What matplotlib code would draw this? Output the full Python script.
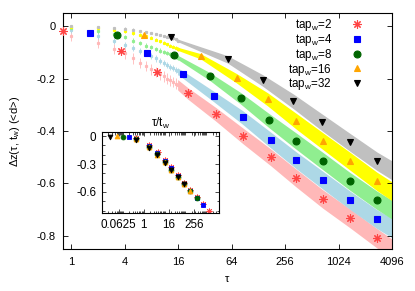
import numpy as np
import matplotlib
matplotlib.use("Agg")
import matplotlib.pyplot as plt
from matplotlib.ticker import FixedLocator, NullLocator, NullFormatter, LogLocator, MultipleLocator

plt.rcParams["font.family"] = ["Liberation Sans", "DejaVu Sans"]
plt.rcParams["axes.unicode_minus"] = False
plt.rcParams["mathtext.fontset"] = "custom"
plt.rcParams["mathtext.rm"] = "Liberation Sans"
plt.rcParams["mathtext.it"] = "Liberation Sans:italic"

# ---------------- data ----------------
TAP_W = [2, 4, 8, 16, 32]
LABELS = [r"tap$_\mathrm{w}$=%d" % t for t in TAP_W]

# sparse region: raw points at integer tau, drawn as light error bars
TAU_SPARSE = [1, 2, 3, 4, 5, 6, 7, 8, 9, 10, 11, 12, 13, 14, 15, 16]
SPARSE_2 = [-0.037, -0.063, -0.087, -0.104, -0.123, -0.140, -0.153, -0.165,
            -0.175, -0.184, -0.192, -0.200, -0.207, -0.213, -0.219, -0.225]
SPARSE_4 = [-0.016, -0.036, -0.056, -0.072, -0.084, -0.095, -0.103, -0.113,
            -0.123, -0.132, -0.140, -0.148, -0.155, -0.161, -0.167, -0.173]
SPARSE_8 = [-0.007, -0.020, -0.030, -0.043, -0.055, -0.065, -0.074, -0.080,
            -0.087, -0.093, -0.098, -0.103, -0.108, -0.111, -0.116, -0.120]
SPARSE_16 = [-0.002, -0.006, -0.013, -0.020, -0.027, -0.032, -0.038, -0.045,
             -0.052, -0.058, -0.064, -0.069, -0.074, -0.079, -0.083, -0.087]
SPARSE_32 = [0.000, -0.003, -0.007, -0.010, -0.014, -0.018, -0.022, -0.026,
             -0.030, -0.034, -0.037, -0.040, -0.043, -0.047, -0.051, -0.055]
SPARSE_ERR = [0.020, 0.012, 0.008, 0.006, 0.005]

# dense region: band centre and half width
BAND_TAU_2 = [16, 20.5, 42.4, 87, 176, 343, 685, 1377, 2770, 4096]
BAND_MID_2 = [-0.225, -0.256, -0.336, -0.420, -0.500, -0.580, -0.660, -0.733, -0.809, -0.850]
BAND_HW_2 = [0.020, 0.022, 0.026, 0.030, 0.032, 0.034, 0.035, 0.036, 0.037, 0.038]

BAND_TAU_4 = [16, 18, 40.2, 85, 176, 343, 685, 1377, 2770, 4096]
BAND_MID_4 = [-0.173, -0.184, -0.268, -0.348, -0.434, -0.512, -0.588, -0.664, -0.736, -0.770]
BAND_HW_4 = [0.012, 0.014, 0.020, 0.026, 0.030, 0.032, 0.034, 0.035, 0.036, 0.037]

BAND_TAU_8 = [16, 36.3, 80.8, 167, 343, 685, 1377, 2770, 4096]
BAND_MID_8 = [-0.120, -0.192, -0.275, -0.359, -0.439, -0.515, -0.592, -0.664, -0.700]
BAND_HW_8 = [0.008, 0.015, 0.022, 0.027, 0.031, 0.033, 0.034, 0.035, 0.036]

BAND_TAU_16 = [16, 28.7, 72.9, 162.6, 343, 685, 1377, 2770, 4096]
BAND_MID_16 = [-0.087, -0.115, -0.199, -0.279, -0.363, -0.439, -0.515, -0.592, -0.630]
BAND_HW_16 = [0.006, 0.010, 0.018, 0.025, 0.030, 0.032, 0.034, 0.035, 0.036]

BAND_TAU_32 = [16, 57.8, 143, 318, 668, 1377, 2770, 4096]
BAND_MID_32 = [-0.055, -0.127, -0.207, -0.287, -0.367, -0.443, -0.515, -0.550]
BAND_HW_32 = [0.005, 0.014, 0.022, 0.028, 0.032, 0.034, 0.035, 0.036]

# highlighted points
MARK_TAU_2 = [0.81, 3.64, 9.2, 20.5, 42.4, 87, 176, 343, 685, 1377, 2770]
MARK_VAL_2 = [-0.020, -0.096, -0.176, -0.256, -0.336, -0.420, -0.500, -0.580, -0.660, -0.733, -0.809]
MARK_TAU_4 = [1.63, 7.1, 18.0, 40.2, 85, 176, 343, 685, 1377, 2770]
MARK_VAL_4 = [-0.028, -0.104, -0.184, -0.268, -0.348, -0.434, -0.512, -0.588, -0.664, -0.736]
MARK_TAU_8 = [3.28, 14.3, 36.3, 80.8, 167, 343, 685, 1377, 2770]
MARK_VAL_8 = [-0.032, -0.112, -0.192, -0.275, -0.359, -0.439, -0.515, -0.592, -0.664]
MARK_TAU_16 = [6.6, 28.7, 72.9, 162.6, 343, 685, 1377, 2770]
MARK_VAL_16 = [-0.035, -0.115, -0.199, -0.279, -0.363, -0.439, -0.515, -0.592]
MARK_TAU_32 = [13.2, 57.8, 143, 318, 668, 1377, 2770]
MARK_VAL_32 = [-0.043, -0.127, -0.207, -0.287, -0.367, -0.443, -0.515]

# inset: same points against tau / t_w
INSET_X_2 = [0.41, 1.82, 4.6, 10.25, 21.2, 43.5, 88, 172, 343, 688, 1385]
INSET_Y_2 = MARK_VAL_2
INSET_X_4 = [0.2, 0.41, 1.78, 4.5, 10.05, 21.2, 44, 86, 172, 344, 692]
INSET_Y_4 = [-0.007] + MARK_VAL_4
INSET_X_8 = [0.1, 0.41, 1.79, 4.54, 10.1, 20.9, 42.9, 85.6, 172, 346]
INSET_Y_8 = [-0.007] + MARK_VAL_8
INSET_X_16 = [0.05, 0.41, 1.79, 4.56, 10.2, 21.4, 42.8, 86, 173]
INSET_Y_16 = [0.0] + MARK_VAL_16
INSET_X_32 = [0.025, 0.41, 1.81, 4.47, 9.94, 20.9, 43, 86.6]
INSET_Y_32 = [-0.007] + MARK_VAL_32

# ---------------- styles ----------------
BAND_COLORS = ["#ffb8b8", "#add8e6", "#90ee90", "#ffff00", "#c0c0c0"]
MARK_COLORS = ["#ff4444", "#0000ff", "#006400", "#ffa500", "#000000"]
MARKERS = [(8, 2, 0), "s", "o", "^", "v"]
MSIZES = [6, 4.6, 5, 5, 5]

sparse = [SPARSE_2, SPARSE_4, SPARSE_8, SPARSE_16, SPARSE_32]
bands = [
    (BAND_TAU_2, BAND_MID_2, BAND_HW_2),
    (BAND_TAU_4, BAND_MID_4, BAND_HW_4),
    (BAND_TAU_8, BAND_MID_8, BAND_HW_8),
    (BAND_TAU_16, BAND_MID_16, BAND_HW_16),
    (BAND_TAU_32, BAND_MID_32, BAND_HW_32),
]
marks = [
    (MARK_TAU_2, MARK_VAL_2),
    (MARK_TAU_4, MARK_VAL_4),
    (MARK_TAU_8, MARK_VAL_8),
    (MARK_TAU_16, MARK_VAL_16),
    (MARK_TAU_32, MARK_VAL_32),
]
insets = [
    (INSET_X_2, INSET_Y_2),
    (INSET_X_4, INSET_Y_4),
    (INSET_X_8, INSET_Y_8),
    (INSET_X_16, INSET_Y_16),
    (INSET_X_32, INSET_Y_32),
]

fig = plt.figure(figsize=(4.15, 2.91), dpi=100)
ax = fig.add_axes([0.1518, 0.1443, 0.7928, 0.811])

for i in range(5):
    ax.errorbar(TAU_SPARSE, sparse[i], yerr=SPARSE_ERR[i], fmt="s", ms=1.3,
                color=BAND_COLORS[i], ecolor=BAND_COLORS[i], elinewidth=0.6,
                capsize=0, zorder=1)
    tau, mid, hw = (np.array(a, dtype=float) for a in bands[i])
    ax.fill_between(tau, mid - hw, mid + hw, color=BAND_COLORS[i], lw=0, zorder=1)

handles = []
for i in range(5):
    h, = ax.plot(marks[i][0], marks[i][1], ls="none", marker=MARKERS[i],
                 ms=MSIZES[i], color=MARK_COLORS[i], mew=0.8, zorder=3,
                 clip_on=False)
    handles.append(h)

ax.set_xscale("log", base=2)
ax.set_xlim(0.81, 4096)
ax.set_ylim(-0.85, 0.05)
ax.xaxis.set_major_locator(FixedLocator([1, 4, 16, 64, 256, 1024, 4096]))
ax.set_xticklabels(["1", "4", "16", "64", "256", "1024", "4096"])
ax.xaxis.set_minor_locator(NullLocator())
ax.set_yticks([0, -0.2, -0.4, -0.6, -0.8])
ax.set_yticklabels(["0", "-0.2", "-0.4", "-0.6", "-0.8"])
ax.tick_params(direction="in", top=True, right=True, length=3.5, width=0.6,
               labelsize=8, pad=5.5)
for s in ax.spines.values():
    s.set_linewidth(0.8)
ax.set_xlabel("τ", fontsize=8, labelpad=5)
ax.set_ylabel(r"Δz(τ, t$_\mathrm{w}$) (<d>)", fontsize=8, labelpad=10)

ax.legend(handles, LABELS, loc="upper right",
          bbox_to_anchor=(366 / 415, 1 - 17 / 291), bbox_transform=fig.transFigure,
          frameon=False, markerfirst=False, fontsize=8.4, handlelength=1.5,
          handletextpad=1.4, labelspacing=-0.1, borderpad=0, borderaxespad=0)

# ---------------- inset ----------------
axi = fig.add_axes([0.2458, 0.267, 0.282, 0.278])
for i in range(5):
    axi.plot(insets[i][0], insets[i][1], ls="none", marker=MARKERS[i],
             ms=MSIZES[i] * 0.7, color=MARK_COLORS[i], mew=0.6)
axi.set_xscale("log")
axi.set_xlim(0.01, 4096)
axi.set_ylim(-0.83, 0.04)
axi.xaxis.set_major_locator(FixedLocator([0.0625, 1, 16, 256]))
axi.set_xticklabels(["0.0625", "1", "16", "256"])
axi.xaxis.set_minor_locator(LogLocator(base=10, subs=np.arange(1, 10), numticks=20))
axi.xaxis.set_minor_formatter(NullFormatter())
axi.set_yticks([0, -0.3, -0.6])
axi.set_yticklabels(["0", "-0.3", "-0.6"])
axi.yaxis.set_minor_locator(MultipleLocator(0.1))
axi.tick_params(which="both", direction="in", top=True, right=True, width=0.5,
                labelsize=8.4, pad=4)
axi.tick_params(which="major", length=3)
axi.tick_params(which="minor", length=1.8)
for s in axi.spines.values():
    s.set_linewidth(0.8)
axi.set_title(r"τ/t$_\mathrm{w}$", fontsize=8.4, pad=4)

fig.savefig("out.png", dpi=100)
